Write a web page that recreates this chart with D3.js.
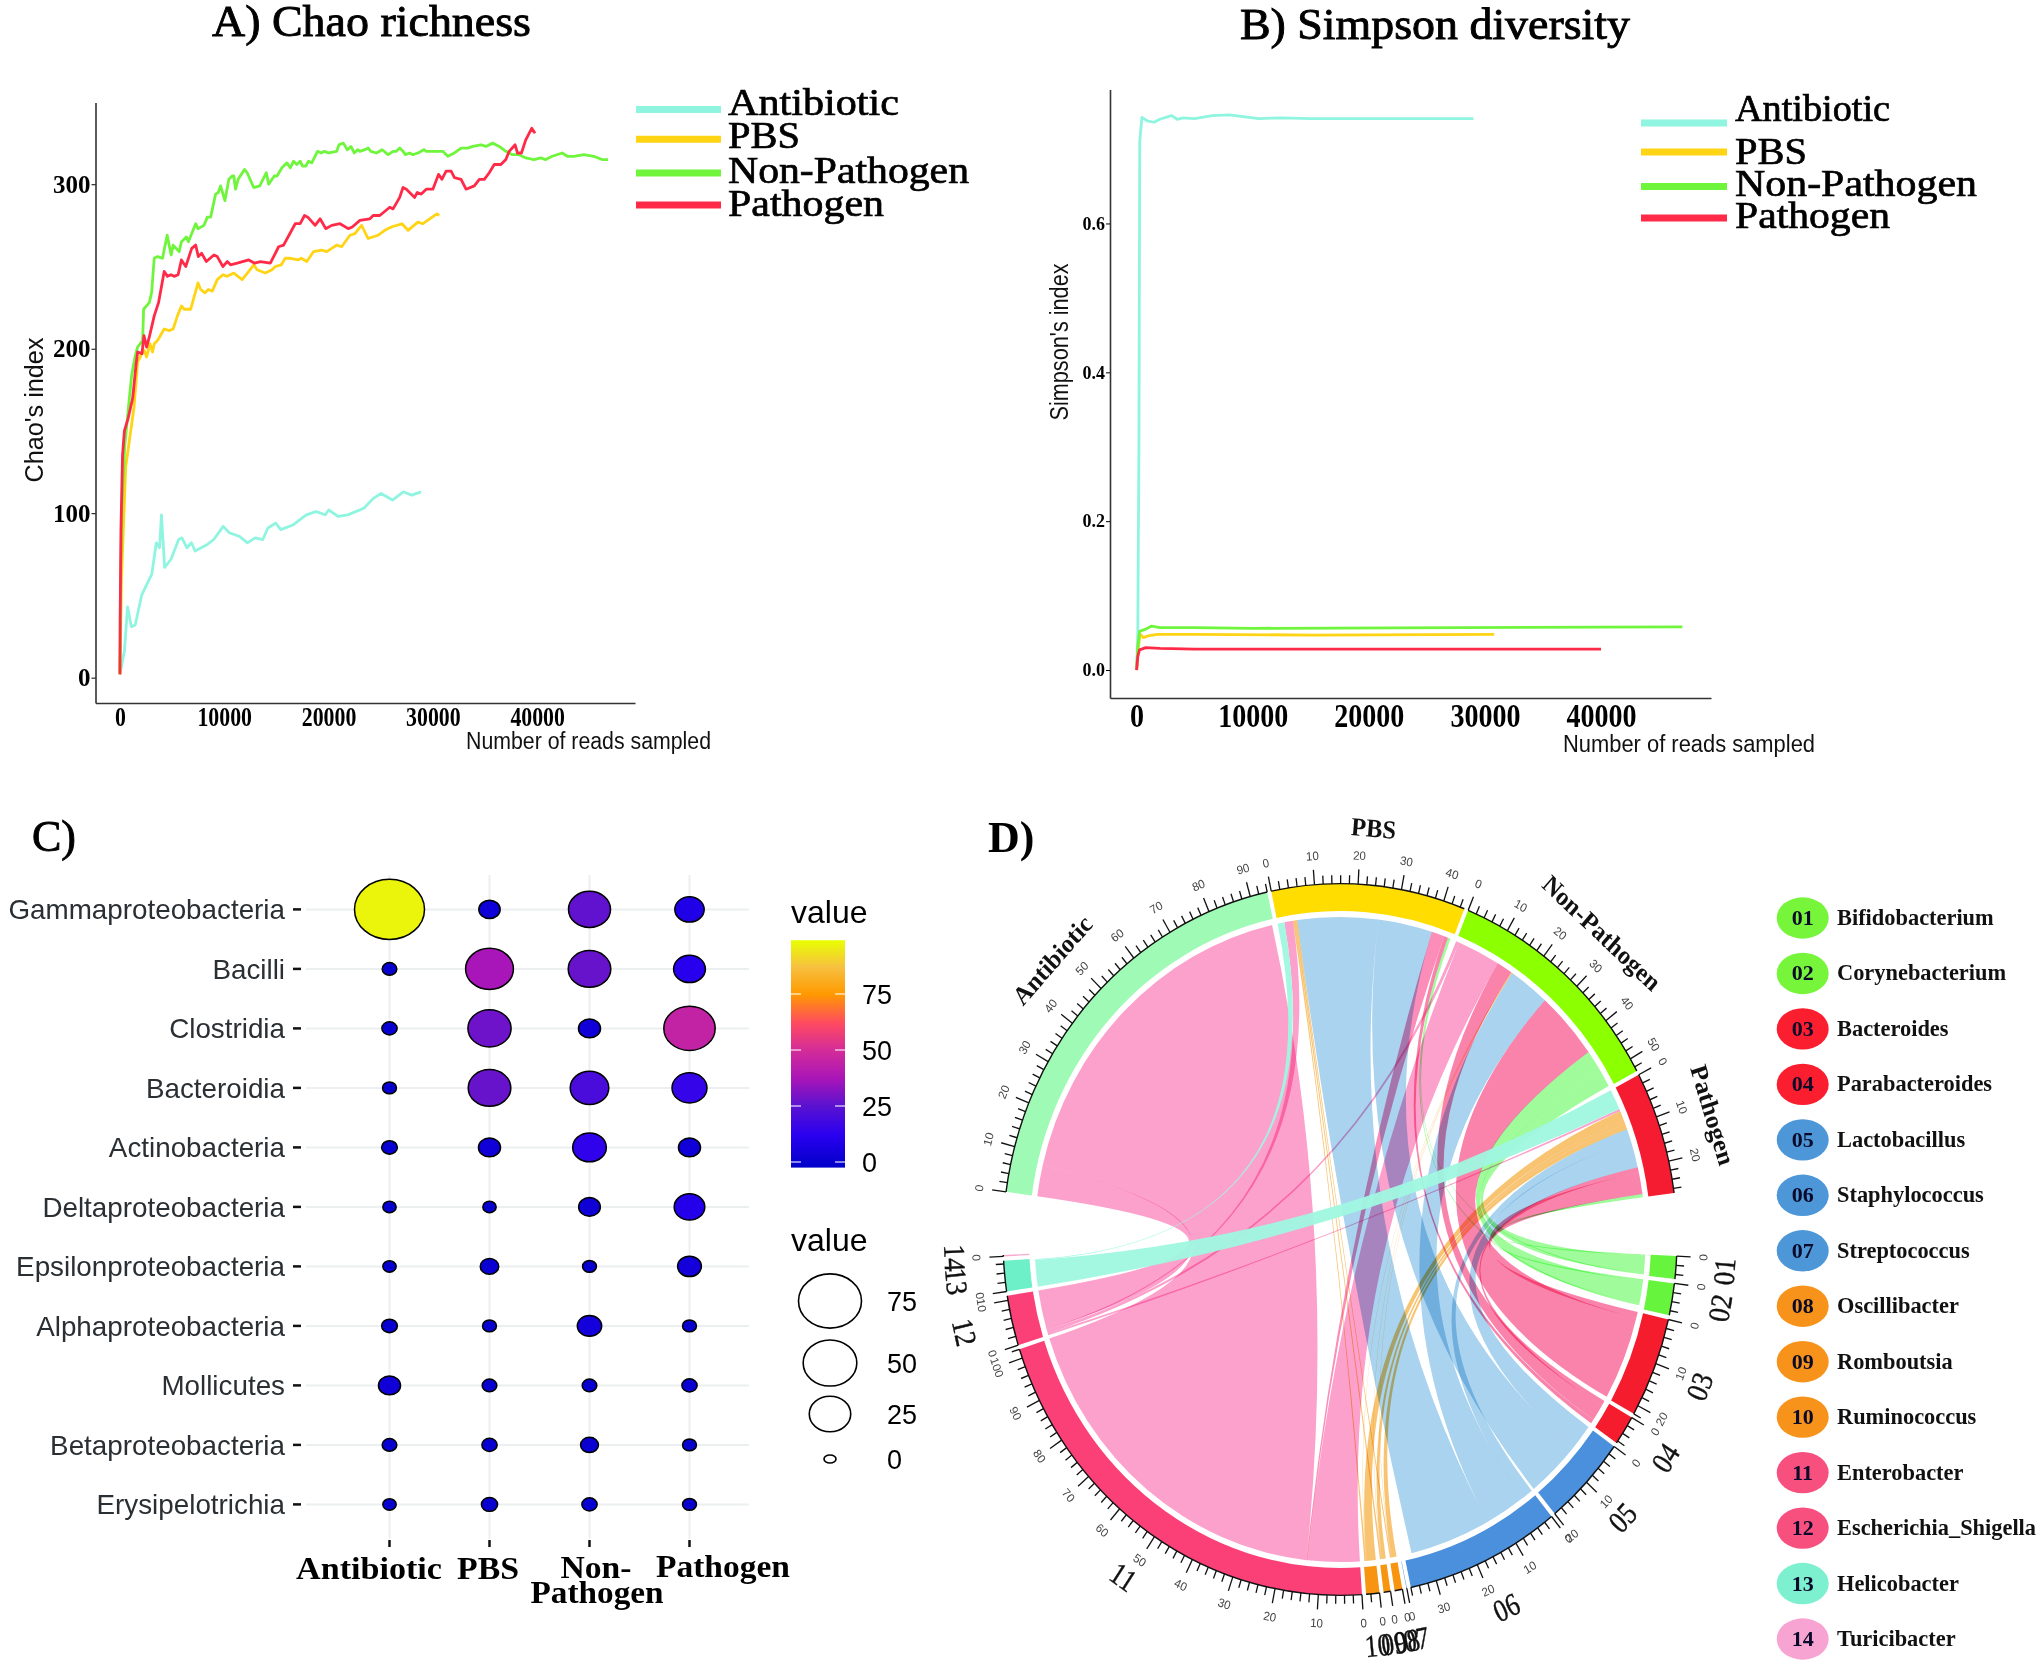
<!DOCTYPE html>
<html>
<head>
<meta charset="utf-8">
<style>
  body { margin: 0; background: #fff; }
  .serif { font-family: "Liberation Serif", serif; }
  .sans { font-family: "Liberation Sans", sans-serif; }
</style>
</head>
<body>
<svg id="fig" width="2042" height="1672"></svg>
<script src="https://d3js.org/d3.v7.min.js"></script>
<script>
// ---- panel A, rarefaction of Chao's index: [reads, index]
var chaoAntibiotic = [[0,2],[430,16],[735,43],[1100,31],[1470,32],[2080,50],[2450,55],[3060,63],[3490,82],[3800,79],[3980,99],[4290,67],[4900,72],[5630,84],[5940,85],[6430,79],[6860,82],[7210,77],[8380,81],[9000,84],[9900,92],[10510,88],[11430,86],[12230,82],[12960,85],[13700,84],[14190,91],[14930,94],[15420,90],[16640,93],[17870,99],[18790,101],[19700,99],[20010,102],[20930,98],[21850,99],[23380,103],[24300,109],[25030,112],[26130,108],[27170,113],[27970,111],[28880,113]];
var chaoPBS = [[0,2],[150,60],[553,128],[1345,164],[1701,192],[2019,196],[2337,199],[2560,195],[2878,203],[3132,198],[3291,203],[3609,205],[4245,212],[4722,211],[5104,212],[5517,220],[5899,226],[6153,224],[6789,224],[7489,240],[7743,236],[8156,234],[8474,236],[8856,235],[9333,242],[9874,245],[10287,244],[10923,246],[11718,242],[12354,247],[12831,251],[13149,248],[13944,246],[14580,248],[14898,250],[15470,251],[15852,255],[16329,255],[17124,254],[17378,255],[17919,253],[18555,259],[19350,260],[19827,259],[20781,263],[21258,262],[22053,269],[22530,270],[23166,275],[23802,267],[24756,269],[25392,272],[26028,274],[27046,276],[27618,272],[28572,277],[29049,276],[30385,282],[30607,281]];
var chaoNonPathogen = [[0,3],[60,60],[200,105],[450,140],[906,170],[1129,184],[1478,196],[1701,201],[2178,205],[2273,224],[2814,228],[3037,234],[3291,255],[3609,256],[4086,255],[4531,269],[4913,257],[5104,263],[5676,259],[5899,265],[6376,268],[6566,265],[7266,276],[7489,273],[8061,275],[8379,280],[8697,280],[9174,294],[9428,295],[9651,299],[10064,290],[10446,303],[10764,305],[10923,305],[11082,297],[11336,303],[11941,309],[12195,307],[12831,298],[13403,299],[14039,307],[14262,300],[14803,305],[15057,305],[15534,310],[16011,313],[16329,310],[16647,314],[16965,312],[17283,314],[17505,311],[17824,311],[18078,314],[18396,313],[18937,320],[19286,319],[19604,320],[19986,319],[20781,320],[21004,324],[21417,325],[21799,321],[22148,323],[22466,319],[22784,321],[23007,320],[23484,321],[23802,322],[24056,320],[24597,319],[25138,321],[25710,318],[26187,320],[26505,320],[26823,322],[27141,320],[27364,318],[27777,319],[28095,318],[28572,319],[29144,321],[29367,320],[29844,320],[30480,320],[30957,320],[31434,317],[32070,319],[32706,322],[33342,322],[33819,323],[34614,324],[35091,323],[35727,325],[36363,323],[36999,320],[37635,318],[38271,318],[38907,316],[39702,315],[40338,316],[40815,315],[41451,317],[42405,319],[42882,317],[43518,317],[44472,318],[45426,317],[46221,315],[46793,315]];
var chaoPathogen = [[0,2],[30,40],[100,90],[250,135],[430,150],[800,158],[1050,165],[1224,170],[1542,190],[1701,198],[2114,197],[2305,208],[2560,201],[2814,207],[3291,220],[3704,228],[4245,247],[4563,244],[4881,245],[5199,244],[5581,245],[5899,254],[6312,250],[6884,261],[7266,263],[7520,256],[7838,258],[8284,253],[9015,257],[9333,256],[9874,250],[10287,253],[10605,251],[11241,252],[12354,254],[12926,252],[13467,253],[14421,252],[15216,262],[15693,263],[16806,276],[17283,276],[17696,281],[18014,280],[18714,275],[19191,279],[19732,273],[20304,275],[21099,276],[21894,273],[22276,274],[23007,278],[23961,279],[24279,281],[24915,281],[25869,286],[26187,285],[26823,292],[27141,298],[27459,297],[28254,292],[28508,295],[28890,294],[29367,297],[30003,297],[30544,306],[30862,303],[31275,308],[31752,308],[32070,304],[32706,303],[33183,297],[33978,299],[34455,303],[34932,303],[35409,307],[35886,312],[36522,312],[36999,315],[37317,320],[37889,324],[38112,319],[38494,319],[38907,327],[39479,334],[39797,331]];

// ---- panel B, Simpson's index: [reads, index]
var simpAntibiotic = [[0,0],[100,0.05],[200,0.3],[270,0.71],[457,0.7425],[900,0.738],[1500,0.736],[2000,0.74],[3000,0.745],[3500,0.74],[4000,0.742],[5000,0.741],[6500,0.745],[8000,0.746],[9000,0.744],[10500,0.741],[12500,0.742],[15000,0.741],[20000,0.741],[25000,0.741],[29000,0.741]];
var simpPBS = [[0,0],[150,0.03],[300,0.048],[600,0.0435],[1000,0.046],[1800,0.048],[5000,0.048],[15000,0.047],[30800,0.048]];
var simpNonPathogen = [[0,0],[100,0.03],[250,0.052],[800,0.055],[1300,0.059],[2000,0.057],[5000,0.057],[10000,0.056],[47000,0.058]];
var simpPathogen = [[0,0],[100,0.018],[250,0.027],[800,0.03],[2000,0.029],[5000,0.028],[40000,0.028]];

var groupNames = ["Antibiotic", "PBS", "Non-Pathogen", "Pathogen"];
var lineColors = ["#8ff5e0", "#ffd414", "#6ef53c", "#ff2a48"];

// ---- panel C
var classNames = ["Gammaproteobacteria", "Bacilli", "Clostridia", "Bacteroidia", "Actinobacteria", "Deltaproteobacteria", "Epsilonproteobacteria", "Alphaproteobacteria", "Mollicutes", "Betaproteobacteria", "Erysipelotrichia"];
var bubbleAntibiotic = [97, 0.2, 0.3, 0.1, 0.4, 0.05, 0.05, 0.4, 2.9, 0.2, 0.05];
var bubblePBS = [2.5, 37, 28, 27, 2.9, 0.05, 1.2, 0.1, 0.2, 0.3, 0.5];
var bubbleNonPathogen = [26, 27, 2.9, 20.4, 13.5, 2.7, 0.1, 4.4, 0.2, 1, 0.3];
var bubblePathogen = [8.7, 11.3, 44.7, 15.2, 2.9, 10, 4, 0.1, 0.3, 0.1, 0.1];
var colorStops = [-2.5, 12, 25, 37, 50, 62, 75, 87, 99];
var colorValues = ["#0000c8", "#2a00f0", "#5a12d0", "#a815b8", "#d42c98", "#ff4a60", "#ff9a00", "#f7c040", "#e8ff00"];
var colorTicks = [0, 25, 50, 75];
var sizeTicks = [75, 50, 25, 0];

// ---- panel D
var genusIds = ["01","02","03","04","05","06","07","08","09","10","11","12","13","14"];
var genusNames = ["Bifidobacterium","Corynebacterium","Bacteroides","Parabacteroides","Lactobacillus","Staphylococcus","Streptococcus","Oscillibacter","Romboutsia","Ruminococcus","Enterobacter","Escherichia_Shigella","Helicobacter","Turicibacter"];
var genusSizes = [5, 7, 22, 6.5, 20, 36, 0.1, 1.8, 1.6, 3.1, 102, 11, 6.7, 0.3];
var groupSizes = [94, 45, 53, 27];
// clockwise order round each group: [genus number, amount]
var flowsAntibiotic = [[12,7.5],[11,86]];
var flowsPBS = [[13,1.7],[12,2.2],[10,0.4],[9,0.4],[8,0.3],[6,20.6],[5,13.8],[11,3.3],[4,1],[2,0.4],[1,0.3]];
var flowsNonPathogen = [[12,0.8],[11,11],[4,4],[10,0.1],[9,0.1],[8,0.1],[6,10.5],[3,16.6],[2,5.4],[1,4.2]];
var flowsPathogen = [[13,5],[12,0.5],[10,2.4],[9,1],[8,1.3],[6,3],[5,6.5],[4,1.3],[3,5.2],[2,0.5],[1,0.3]];
// some links narrow or widen toward the genus end: [group index, genus number, factor]
var targetScales = [[1,11,0.1],[1,13,0.1],[1,12,0.15],[2,11,1.2],[0,11,1.03],[0,12,1.25],[3,13,1.28],[3,3,0.3],[2,3,1.22]];

var genusRing = ["#66f53c","#66f53c","#f51c2e","#f51c2e","#4a90dc","#4a90dc","#4a90dc","#f79410","#f79410","#f79410","#fb4078","#fb4078","#6df0c8","#f9a8cf"];
var genusRibbon = ["#a0fb9b","#a0fb9b","#f983ab","#f983ab","#a9d3ee","#a9d3ee","#a9d3ee","#f8c472","#f8c472","#f8c472","#fca0cc","#fca0cc","#9ff8e0","#fca0cc"];
var genusLegend = ["#76f53a","#76f53a","#fa1e2e","#fa1e2e","#4d96d8","#4d96d8","#4d96d8","#f7931a","#f7931a","#f7931a","#f7507f","#f7507f","#7cf0cf","#f8a4d2"];
var groupRing = ["#9ffab5","#ffdd00","#8cff00","#f51c32"];

var svg = d3.select("#fig");

function txt(parent, x, y, s, size, cls, extra) {
  var t = parent.append("text").attr("x", x).attr("y", y).attr("class", cls)
    .style("font-size", size + "px").text(s);
  if (extra) extra(t);
  return t;
}

// shared by the two rarefaction panels
function rarefaction(opt) {
  var g = svg.append("g");
  var x = d3.scaleLinear().domain(opt.xDomain).range([opt.left, opt.right]);
  var y = d3.scaleLinear().domain(opt.yDomain).range([opt.bottom, opt.top]);

  var xa = g.append("g").attr("transform", "translate(0," + opt.bottom + ")")
    .call(d3.axisBottom(x).tickValues([0, 10000, 20000, 30000, 40000]).tickSize(0).tickSizeOuter(0).tickFormat(d3.format("d")));
  xa.selectAll("text").attr("class", "serif").attr("y", opt.xLabelY).attr("dy", 0)
    .attr("transform", "scale(" + opt.xSquish + ",1)")
    .style("font-size", opt.xFont + "px").style("font-weight", "bold").attr("fill", "#000");
  var ya = g.append("g").attr("transform", "translate(" + opt.left + ",0)")
    .call(d3.axisLeft(y).tickValues(opt.yTicks).tickSize(4).tickSizeOuter(0).tickFormat(opt.yFormat));
  ya.selectAll("text").attr("class", "serif").attr("x", -5).style("font-size", opt.yFont + "px").style("font-weight", "bold").attr("fill", "#000");
  g.selectAll(".domain").attr("stroke", "#333").attr("stroke-width", 1.6);

  var line = d3.line().x(function(d) { return x(d[0]); }).y(function(d) { return y(d[1]); });
  opt.series.forEach(function(s, i) {
    g.append("path").attr("d", line(s)).attr("fill", "none").attr("stroke", lineColors[i])
      .attr("stroke-width", 2.8).attr("stroke-linejoin", "round");
  });

  opt.legendLines.forEach(function(ly, i) {
    g.append("line").attr("x1", opt.legendX1).attr("x2", opt.legendX2).attr("y1", ly).attr("y2", ly)
      .attr("stroke", lineColors[i]).attr("stroke-width", 7);
    txt(g, opt.legendTextX, opt.legendText[i], groupNames[i], 37, "serif", function(t) {
      t.attr("textLength", opt.legendWidths[i]).attr("lengthAdjust", "spacingAndGlyphs").attr("stroke", "#000").attr("stroke-width", 0.7);
    });
  });

  txt(g, opt.titleX, opt.titleY, opt.title, 44, "serif", function(t) {
    t.attr("textLength", opt.titleW).attr("lengthAdjust", "spacingAndGlyphs").attr("stroke", "#000").attr("stroke-width", 0.9);
  });
  txt(g, opt.xTitleX, opt.xTitleY, "Number of reads sampled", 23, "sans", function(t) {
    t.attr("textLength", opt.xTitleW).attr("lengthAdjust", "spacingAndGlyphs").attr("fill", "#111");
  });
  txt(g, 0, 0, opt.yTitle, 25, "sans", function(t) {
    t.attr("transform", "translate(" + opt.yTitleX + "," + opt.yTitleY + ") rotate(-90)")
      .attr("text-anchor", "middle").attr("textLength", opt.yTitleW).attr("lengthAdjust", "spacingAndGlyphs").attr("fill", "#111");
  });
}

rarefaction({
  xDomain: [-2340, 49380], yDomain: [-15.4, 349.7], left: 95.5, right: 635, top: 102.5, bottom: 703,
  yTicks: [0, 100, 200, 300], yFormat: d3.format("d"), yFont: 25, xFont: 28, xSquish: 0.78, xLabelY: 23,
  series: [chaoAntibiotic, chaoPBS, chaoNonPathogen, chaoPathogen],
  legendX1: 636, legendX2: 721, legendTextX: 728, legendLines: [109.5, 139.3, 173, 205], legendText: [114.5, 148, 183, 216],
  legendWidths: [171, 72, 241, 156],
  title: "A) Chao richness", titleX: 212, titleY: 36, titleW: 319,
  xTitleX: 466, xTitleY: 749, xTitleW: 245,
  yTitle: "Chao's index", yTitleX: 43, yTitleY: 410, yTitleW: 145
});

rarefaction({
  xDomain: [-2292, 49470], yDomain: [-0.0376, 0.78], left: 1110, right: 1711, top: 89.5, bottom: 698,
  yTicks: [0, 0.2, 0.4, 0.6], yFormat: d3.format(".1f"), yFont: 18, xFont: 33, xSquish: 0.85, xLabelY: 29,
  series: [simpAntibiotic, simpPBS, simpNonPathogen, simpPathogen],
  legendX1: 1641, legendX2: 1727, legendTextX: 1735, legendLines: [123, 152, 186.5, 218], legendText: [121, 164, 195.5, 228],
  legendWidths: [155, 72, 242, 155],
  title: "B) Simpson diversity", titleX: 1240, titleY: 39, titleW: 390,
  xTitleX: 1563, xTitleY: 752, xTitleW: 252,
  yTitle: "Simpson's index", yTitleX: 1068, yTitleY: 342, yTitleW: 157
});

// ---- panel C: bubble grid
(function() {
  var g = svg.append("g");
  var x = d3.scalePoint().domain(groupNames).range([389.5, 689.5]);
  var y = d3.scalePoint().domain(classNames).range([909.4, 1504.4]);
  var r = d3.scaleSqrt().domain([0, 97]).range([6, 35]);
  var color = d3.scaleLinear().domain(colorStops).range(colorValues);
  var squash = 0.86;

  classNames.forEach(function(c) {
    g.append("line").attr("x1", 306).attr("x2", 749).attr("y1", y(c)).attr("y2", y(c)).attr("stroke", "#ebeff0").attr("stroke-width", 2);
    g.append("line").attr("x1", 293).attr("x2", 301).attr("y1", y(c)).attr("y2", y(c)).attr("stroke", "#111").attr("stroke-width", 2.5);
    txt(g, 285, y(c) + 10, c, 27.8, "sans", function(t) { t.attr("text-anchor", "end").attr("fill", "#2a2f33"); });
  });
  groupNames.forEach(function(n) {
    g.append("line").attr("x1", x(n)).attr("x2", x(n)).attr("y1", 875).attr("y2", 1539).attr("stroke", "#ebeff0").attr("stroke-width", 2);
    g.append("line").attr("x1", x(n)).attr("x2", x(n)).attr("y1", 1540).attr("y2", 1547).attr("stroke", "#111").attr("stroke-width", 2.5);
  });

  [bubbleAntibiotic, bubblePBS, bubbleNonPathogen, bubblePathogen].forEach(function(col, j) {
    col.forEach(function(v, i) {
      g.append("ellipse").attr("cx", x(groupNames[j])).attr("cy", y(classNames[i]))
        .attr("rx", r(v)).attr("ry", r(v) * squash)
        .attr("fill", color(v)).attr("stroke", "#000").attr("stroke-width", 1.5);
    });
  });

  // category labels sit off their ticks in the original
  [["Antibiotic", 369, 1579, 146], ["PBS", 488, 1579, 62], ["Non-", 596, 1578, 71], ["Pathogen", 597, 1603, 133], ["Pathogen", 723, 1577, 134]].forEach(function(l) {
    txt(g, l[1], l[2], l[0], 32, "serif", function(t) {
      t.attr("text-anchor", "middle").style("font-weight", "bold").attr("textLength", l[3]).attr("lengthAdjust", "spacingAndGlyphs");
    });
  });

  txt(g, 32, 851, "C)", 44, "serif", function(t) { t.attr("stroke", "#000").attr("stroke-width", 0.9); });

  // colour bar
  var cy = d3.scaleLinear().domain([0, 25]).range([1162, 1106]);
  var grad = svg.append("defs").append("linearGradient").attr("id", "bar").attr("x1", 0).attr("x2", 0).attr("y1", 1).attr("y2", 0);
  colorStops.forEach(function(s, i) {
    grad.append("stop").attr("offset", (s - colorStops[0]) / (colorStops[colorStops.length - 1] - colorStops[0])).attr("stop-color", colorValues[i]);
  });
  g.append("rect").attr("x", 791).attr("width", 54).attr("y", cy(99)).attr("height", cy(-2.5) - cy(99)).attr("fill", "url(#bar)");
  colorTicks.forEach(function(v) {
    g.append("line").attr("x1", 791).attr("x2", 801).attr("y1", cy(v)).attr("y2", cy(v)).attr("stroke", "#fff").attr("stroke-opacity", 0.7).attr("stroke-width", 1.5);
    g.append("line").attr("x1", 835).attr("x2", 845).attr("y1", cy(v)).attr("y2", cy(v)).attr("stroke", "#fff").attr("stroke-opacity", 0.7).attr("stroke-width", 1.5);
    txt(g, 862, cy(v) + 10, v, 27, "sans");
  });
  txt(g, 791, 923, "value", 32, "sans");
  txt(g, 791, 1251, "value", 32, "sans");

  var sizeY = [1301, 1363, 1414, 1459];
  sizeTicks.forEach(function(v, i) {
    g.append("ellipse").attr("cx", 830).attr("cy", sizeY[i]).attr("rx", r(v)).attr("ry", v === 0 ? 4 : r(v) * squash)
      .attr("fill", "#fff").attr("stroke", "#000").attr("stroke-width", 1.6);
    txt(g, 887, sizeY[i] + 10, v, 27, "sans");
  });
})();

// ---- panel D: chord diagram, the original is squeezed a little sideways
(function() {
  var cx = 1340, cy = 1239.5, R = 337, inner = 311, ribbonR = 305.5;
  var g = svg.append("g").attr("transform", "translate(" + cx + "," + cy + ") scale(1,1.056)");
  var rad = Math.PI / 180;

  var sectors = [];
  groupNames.forEach(function(n, i) { sectors.push({ label: n, size: groupSizes[i], ring: groupRing[i], group: true }); });
  genusIds.forEach(function(n, i) { sectors.push({ label: n, size: genusSizes[i], ring: genusRing[i], group: false }); });

  var bigGap = 10.2, smallGap = 0.7;
  var k = (360 - 2 * bigGap - 16 * smallGap) / d3.sum(sectors, function(s) { return s.size; });
  var a = 277.7;
  sectors.forEach(function(s, i) {
    s.start = a;
    s.end = a + s.size * k;
    s.cursor = a;
    a = s.end + (i === 3 || i === 17 ? bigGap : smallGap);
  });

  var arc = d3.arc().innerRadius(inner).outerRadius(R);
  var outline = d3.arc().innerRadius(R).outerRadius(R);

  // ribbons, clockwise placement along the group side
  var all = [flowsAntibiotic, flowsPBS, flowsNonPathogen, flowsPathogen];
  var links = [];
  all.forEach(function(flows, gi) {
    flows.forEach(function(f) {
      var s = sectors[gi];
      var from = s.cursor; s.cursor += f[1] * k;
      links.push({ gi: gi, genus: f[0], v: f[1], source: { startAngle: from * rad, endAngle: s.cursor * rad, radius: ribbonR } });
    });
  });
  // genus side takes Pathogen first, then back round to Antibiotic
  genusIds.forEach(function(id, i) {
    var s = sectors[i + 4];
    [3, 2, 1, 0].forEach(function(gi) {
      links.filter(function(l) { return l.gi === gi && l.genus === i + 1; }).forEach(function(l) {
        var scale = targetScales.filter(function(t) { return t[0] === gi && t[1] === i + 1; });
        var w = l.v * (scale.length ? scale[0][2] : 1) * k;
        var from = s.cursor; s.cursor += w;
        l.target = { startAngle: from * rad, endAngle: s.cursor * rad, radius: ribbonR };
      });
    });
  });

  var ribbon = d3.ribbon();
  links.sort(function(p, q) { return (p.genus === 13) - (q.genus === 13) || q.v - p.v; });
  links.forEach(function(l) {
    var stripe = l.gi === 1 && l.genus === 11;
    g.append("path").attr("d", ribbon(l))
      .attr("fill", stripe ? "#fb8db8" : genusRibbon[l.genus - 1])
      .style("mix-blend-mode", l.genus === 13 ? "normal" : "multiply")
      .attr("fill-opacity", l.genus === 13 ? 0.95 : 1);
  });

  function face(d) {
    d = (d + 360) % 360;
    if (d > 90 && d < 270) return d - 180;
    return d >= 270 ? d - 360 : d;
  }

  sectors.forEach(function(s) {
    var st = s.start * rad, en = s.end * rad;
    g.append("path").attr("d", arc({ startAngle: st, endAngle: en })).attr("fill", s.ring);
    g.append("path").attr("d", outline({ startAngle: st, endAngle: en })).attr("fill", "none").attr("stroke", "#111").attr("stroke-width", 1.4);

    d3.range(0, s.size + 0.001, 2).forEach(function(v) {
      var an = s.start + v * k, major = v % 10 === 0;
      var len = major ? 14 : 8, c = Math.sin(an * rad), d = -Math.cos(an * rad);
      g.append("line").attr("x1", R * c).attr("y1", R * d).attr("x2", (R + len) * c).attr("y2", (R + len) * d)
        .attr("stroke", "#111").attr("stroke-width", 1.3);
      if (major) {
        g.append("text").attr("class", "sans").attr("text-anchor", "middle").attr("dominant-baseline", "central")
          .attr("transform", "translate(" + (R + 27) * c + "," + (R + 27) * d + ") rotate(" + face(an) + ")")
          .style("font-size", "11.5px").attr("fill", "#444").text(v);
      }
    });

    var mid = (s.start + s.end) / 2, lr = s.group ? R * 1.16 : R * 1.145;
    g.append("text").attr("class", "serif").attr("text-anchor", "middle").attr("dominant-baseline", "central")
      .attr("transform", "translate(" + lr * Math.sin(mid * rad) + "," + (-lr * Math.cos(mid * rad)) + ") rotate(" + face(mid) + ")" + (s.group ? "" : " scale(0.85,1)"))
      .style("font-size", s.group ? "24.5px" : "30px").style("font-weight", s.group ? "bold" : "normal")
      .attr("fill", "#111").attr("stroke", s.group ? "none" : "#111").attr("stroke-width", 0.4)
      .text(s.label);
  });

  txt(svg, 988, 852, "D)", 44, "serif", function(t) { t.style("font-weight", "bold"); });

  // genus key
  var keyY = d3.scalePoint().domain(genusIds).range([918, 1639]);
  var key = svg.append("g");
  genusIds.forEach(function(id, i) {
    key.append("ellipse").attr("cx", 1802.7).attr("cy", keyY(id)).attr("rx", 26).attr("ry", 20.7).attr("fill", genusLegend[i]);
    txt(key, 1802.7, keyY(id) + 7, id, 22, "serif", function(t) { t.attr("text-anchor", "middle").style("font-weight", "bold").attr("fill", "#0a0a2a"); });
    txt(key, 1837, keyY(id) + 7, genusNames[i], 22.4, "serif", function(t) { t.style("font-weight", "bold").attr("fill", "#111"); });
  });
})();
</script>
</body>
</html>
